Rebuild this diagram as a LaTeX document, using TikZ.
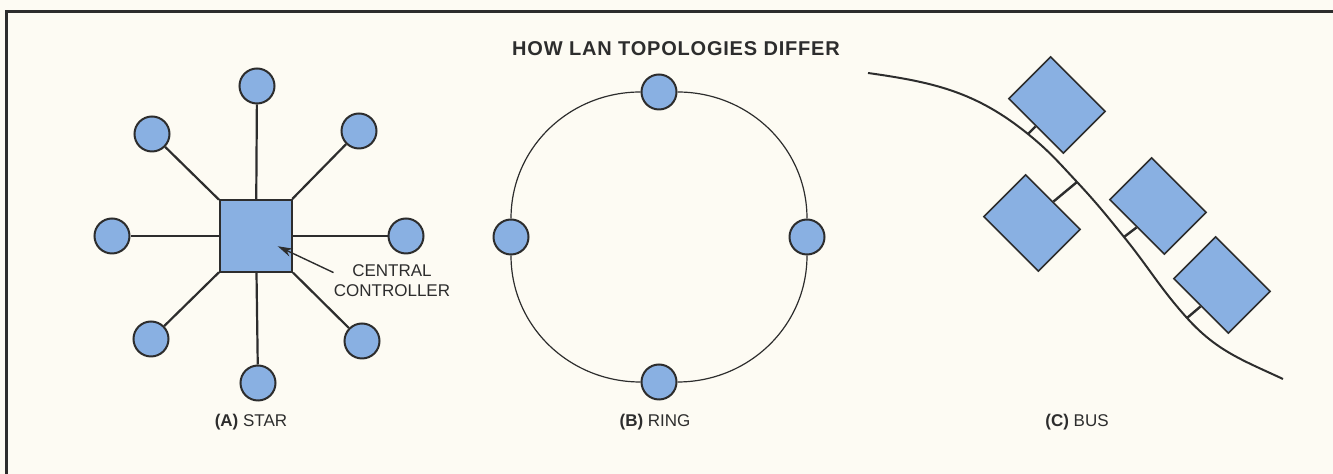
\documentclass[tikz,border=0pt]{standalone}
\usepackage{fontspec}
\setmainfont{Liberation Sans}
\newfontfamily\headfont[LetterSpace=4]{Liberation Sans}
\usepackage{tikz}
\usetikzlibrary{arrows.meta,positioning,calc}
\definecolor{ink}{RGB}{45,45,45}
\definecolor{nodeblue}{RGB}{137,176,226}
\definecolor{paper}{RGB}{253,251,243}
\tikzset{
  frame/.style={draw=ink, line width=1.5pt, line cap=rect},
  heading/.style={font=\headfont\fontsize{10}{12}\selectfont\bfseries, text=ink},
  % star
  hubbox/.style={draw=ink, line width=1pt, fill=nodeblue, minimum size=36pt, inner sep=0pt},
  host/.style={draw=ink, line width=1pt, circle, fill=nodeblue, minimum size=17.5pt, inner sep=0pt},
  spoke/.style={draw=ink, line width=1.1pt},
  pointer/.style={draw=ink, line width=0.7pt, -{Stealth[length=2.6mm, width=1.5mm]}},
  note/.style={align=center, inner sep=0pt, text=ink},
  % ring
  ringline/.style={draw=ink, line width=0.6pt},
  % bus
  tap/.style={draw=ink, line width=0.8pt, fill=nodeblue, minimum width=38.5pt,
    minimum height=29.5pt, inner sep=0pt, rotate=-45},
  busline/.style={draw=ink, line width=1pt},
  drop/.style={draw=ink, line width=1.2pt},
  caption/.style={text=ink}
}
\begin{document}
\begin{tikzpicture}[x=0.5pt, y=-0.5pt, font=\fontsize{8.5}{10}\selectfont]
  \fill[paper] (0,0) rectangle (1333,474);
  \useasboundingbox (0,0) rectangle (1333,474);
  \draw[frame] (6,474) -- (6,12) -- (1333,12);

  \node[heading] (ttl) at (676,49) {HOW LAN TOPOLOGIES DIFFER};

  % (A) star
  \node[hubbox] (hub) at (256,236) {};
  \node[host] (sn) at (257,86) {};
  \node[host] (sne) at (359,131) {};
  \node[host] (se) at (406,236) {};
  \node[host] (sse) at (362,341) {};
  \node[host] (ss) at (258,383) {};
  \node[host] (ssw) at (151,339) {};
  \node[host] (sw) at (112,236) {};
  \node[host] (snw) at (152,134) {};
  \draw[spoke] (hub) -- (sn);
  \draw[spoke] (hub) -- (sne);
  \draw[spoke] (hub) -- (se);
  \draw[spoke] (hub) -- (sse);
  \draw[spoke] (hub) -- (ss);
  \draw[spoke] (hub) -- (ssw);
  \draw[spoke] (hub) -- (sw);
  \draw[spoke] (hub) -- (snw);
  \node[note] (ctl) at (392,281) {CENTRAL\\CONTROLLER};
  \draw[pointer, shorten >=12pt] ([yshift=-4pt]ctl.north west) -- (hub.center);
  \node[caption] (capa) at (251,422) {\textbf{(A)} STAR};

  % (B) ring
  \node[host] (rn) at (659,92) {};
  \node[host] (re) at (807,237) {};
  \node[host] (rs) at (659,382) {};
  \node[host] (rw) at (511,237) {};
  \draw[ringline] (rn) to[out=0, in=90] (re);
  \draw[ringline] (re) to[out=-90, in=0] (rs);
  \draw[ringline] (rs) to[out=180, in=-90] (rw);
  \draw[ringline] (rw) to[out=90, in=180] (rn);
  \node[caption] (capb) at (655,422) {\textbf{(B)} RING};

  % (C) bus
  \coordinate (b0) at (868,73);
  \coordinate (t1) at (1028,134);
  \coordinate (t2) at (1077,182);
  \coordinate (t3) at (1124,237);
  \coordinate (t4) at (1187,318);
  \coordinate (b4) at (1283,379);
  \draw[busline] (b0) to[out=-8, in=141] (t1) to[out=-39, in=133] (t2)
    to[out=-47, in=129] (t3) to[out=-51, in=132] (t4) to[out=-48, in=155] (b4);
  \node[tap] (w1) at (1057,105) {};
  \node[tap] (w2) at (1032,223) {};
  \node[tap] (w3) at (1158,206) {};
  \node[tap] (w4) at (1222,285) {};
  \draw[drop] (w1.south) -- (t1);
  \draw[drop] (w2.north) -- (t2);
  \draw[drop] (w3.south) -- (t3);
  \draw[drop] (w4.south) -- (t4);
  \node[caption] (capc) at (1077,422) {\textbf{(C)} BUS};
\end{tikzpicture}
\end{document}
